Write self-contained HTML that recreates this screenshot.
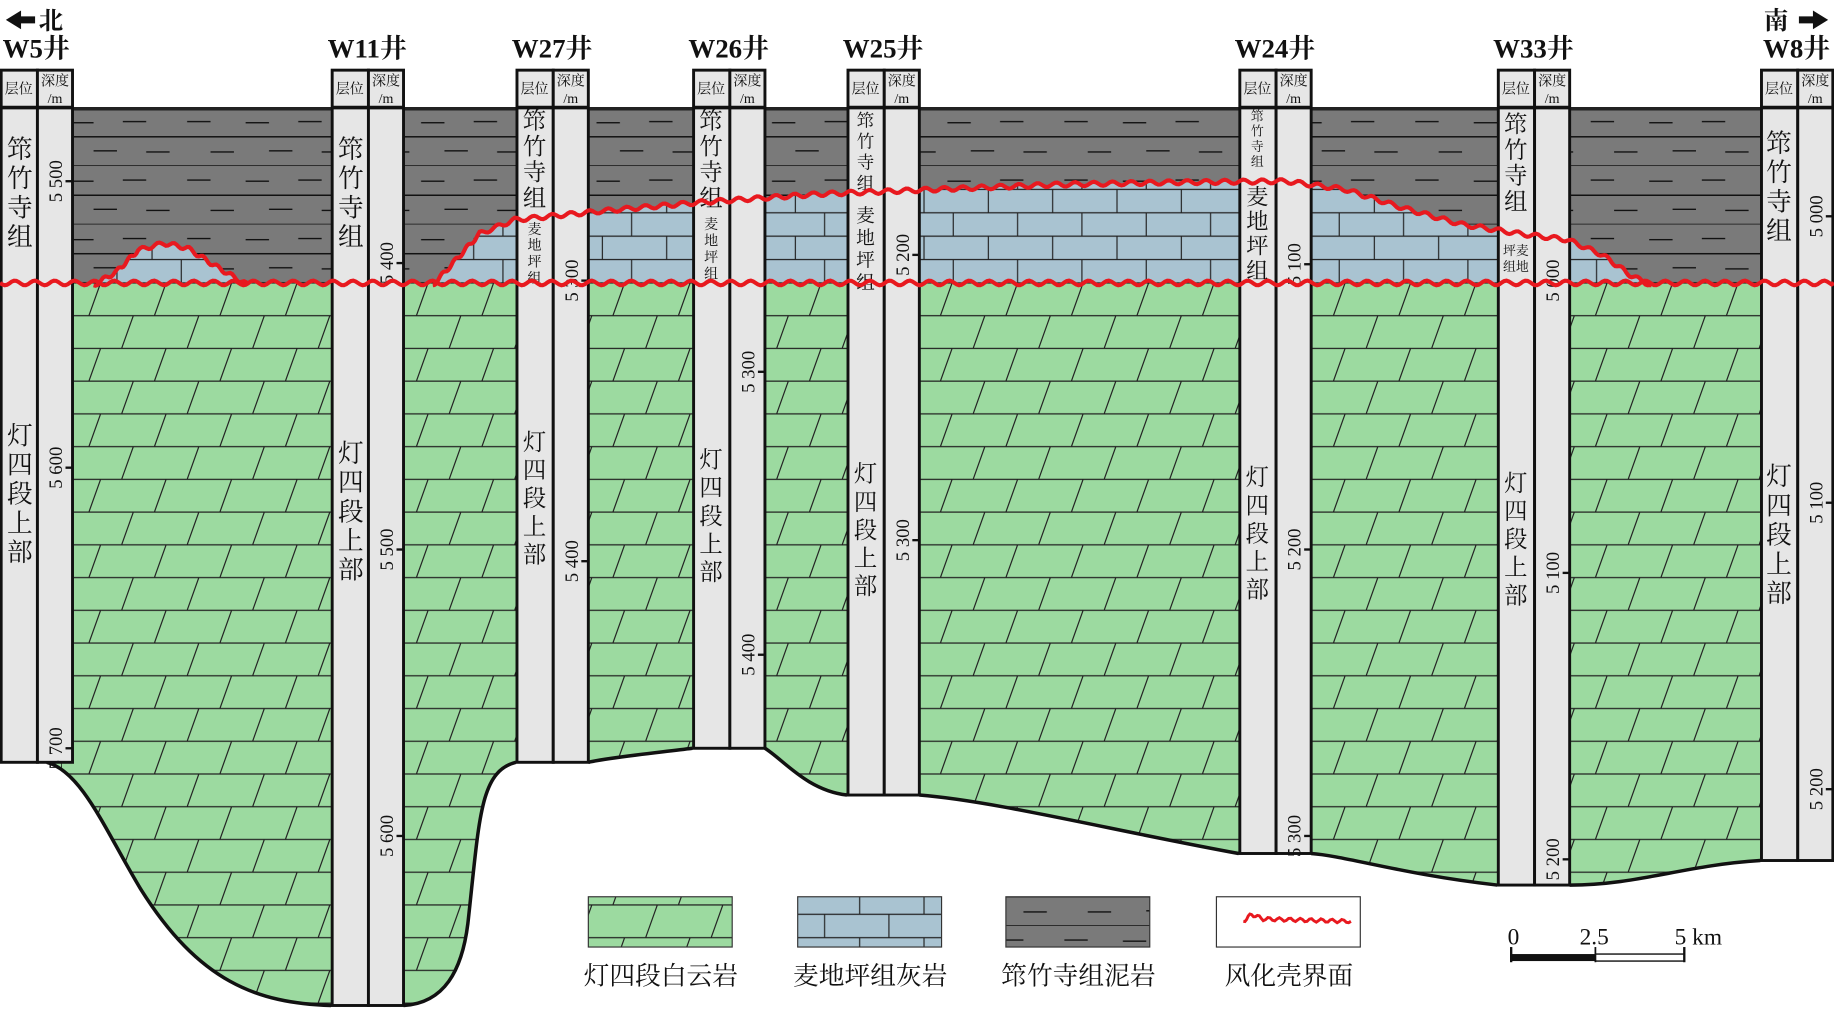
<!DOCTYPE html>
<html><head><meta charset="utf-8"><style>
html,body{margin:0;padding:0;background:#fff;}
svg{display:block;}
text{font-family:"Liberation Serif","Noto Serif CJK SC","Noto Sans CJK SC",serif;fill:#111;}
</style></head><body>
<svg id="s" width="1834" height="1009" viewBox="0 0 1568 863" preserveAspectRatio="none" xmlns="http://www.w3.org/2000/svg">
<defs>
<pattern id="pg" patternUnits="userSpaceOnUse" x="0" y="242" width="112" height="56">
<rect width="112" height="56" fill="#9cdaa0"/>
<path d="M0 28H112M0 56H112M0 0H112M20 28L30 0M76 28L86 0M48 56L58 28M104 56L114 28M-8 56L2 28" stroke="#222" stroke-width="1"/>
</pattern>
<pattern id="pb" patternUnits="userSpaceOnUse" x="0" y="242" width="110" height="40">
<rect width="110" height="40" fill="#a9c3d1"/>
<path d="M0 0H110M0 20H110M0 40H110M20 0V20M75 0V20M45 20V40M100 20V40" stroke="#222" stroke-width="1"/>
</pattern>
<pattern id="pm" patternUnits="userSpaceOnUse" x="0" y="92" width="150" height="50">
<rect width="150" height="50" fill="#7a7a7a"/>
<path d="M0 25H150M0 50H150M10 12H30M60 13H80M105 12H125M30 38H50M80 37H100M125 38H145" stroke="#111" stroke-width="1.2"/>
</pattern>
<clipPath id="cg"><path d="M0 242H1568V736L1505 736C1440 740 1400 757 1342 757L1280 757C1200 748 1150 732 1121 730L1059 730C950 710 850 685 786 680L724 680C690 676 670 650 654 640L592 640C560 644 520 648 503 652L441 652C410 660 410 700 400 790C395 830 380 858 345 860L283 860C220 858 170 840 120 760C90 710 70 660 40 652L0 652Z"/></clipPath>
</defs>
<g id="g"></g>
</svg>
<script>
const NS="http://www.w3.org/2000/svg",g=document.getElementById('g');
function el(t,a,txt){const e=document.createElementNS(NS,t);for(const k in a)e.setAttribute(k,a[k]);if(txt!=null)e.textContent=txt;g.appendChild(e);return e;}
el('rect',{x:0,y:92,width:1568,height:152,fill:'url(#pm)'});
const dome1=[[80,244],[100,232],[118,214],[140,208],[160,212],[185,228],[210,244]];
const dome2=[[370,244],[390,222],[410,200],[440,188],[470,185],[520,180],[600,173],[700,166],[800,162],[900,158],[1000,156],[1100,155],[1150,162],[1200,178],[1250,192],[1300,200],[1340,205],[1370,218],[1395,236],[1412,244]];
function poly(pts){return 'M'+pts.map(p=>p.join(' ')).join(' L');}
el('path',{d:poly(dome1)+'Z',fill:'url(#pb)'});
el('path',{d:poly(dome2)+'Z',fill:'url(#pb)'});
el('rect',{x:0,y:242,width:1568,height:630,fill:'url(#pg)','clip-path':'url(#cg)'});
el('path',{d:"M40 652C70 660 90 710 120 760C170 840 220 858 283 860M345 860C380 858 395 830 400 790C410 700 410 660 441 652M503 652C520 648 560 644 592 640M654 640C670 650 690 676 724 680M786 680C850 685 950 710 1059 730M1121 730C1150 732 1200 748 1280 757M1342 757C1400 757 1440 740 1505 736",fill:'none',stroke:'#111','stroke-width':3});
el('line',{x1:0,y1:93,x2:1568,y2:93,stroke:'#222','stroke-width':3});
function wavy(pts,amp,per){let out=[];let L=0;for(let i=1;i<pts.length;i++){const [x0,y0]=pts[i-1],[x1,y1]=pts[i];const len=Math.hypot(x1-x0,y1-y0);const n=Math.max(2,Math.ceil(len/2));for(let j=0;j<n;j++){const t=j/n;const x=x0+(x1-x0)*t,y=y0+(y1-y0)*t;const s=L+len*t;out.push([x,y+amp*Math.sin(s/per*2*Math.PI)]);}L+=len;}out.push(pts[pts.length-1]);return 'M'+out.map(p=>p[0].toFixed(1)+' '+p[1].toFixed(1)).join(' L');}
const red='#e8191f';
const W=[['W5井',0,652,[[5500,155],[5600,400],[5700,640]]],['W11井',283,860,[[5400,225],[5500,470],[5600,715]]],['W27井',441,652,[[5300,240],[5400,480]]],['W26井',592,640,[[5300,318],[5400,560]]],['W25井',724,680,[[5200,218],[5300,462]]],['W24井',1059,730,[[5100,226],[5200,470],[5300,715]]],['W33井',1280,757,[[5000,240],[5100,490],[5200,735]]],['W8井',1505,736,[[5000,185],[5100,430],[5200,675]]]];
for(const [name,x,b,dep] of W){
 el('rect',{x:x+1,y:60,width:31,height:b-60,fill:'#e6e6e6',stroke:'#111','stroke-width':2.5});
 el('rect',{x:x+32,y:60,width:30,height:b-60,fill:'#e6e6e6',stroke:'#111','stroke-width':2.5});
 el('line',{x1:x,y1:92,x2:x+62,y2:92,stroke:'#111','stroke-width':3});
 el('text',{x:x+16,y:80,'font-size':12,'text-anchor':'middle'},'层位');
 el('text',{x:x+47,y:73,'font-size':12,'text-anchor':'middle'},'深度');
 el('text',{x:x+47,y:88,'font-size':12,'text-anchor':'middle'},'/m');
 el('text',{x:x+31,y:49,'font-size':23,'font-weight':'bold','text-anchor':'middle'},name);
 for(const [v,y] of dep){
  el('line',{x1:x+56,y1:y,x2:x+62,y2:y,stroke:'#111','stroke-width':2});
  const s=String(v);
  el('text',{x:0,y:0,'font-size':16,'text-anchor':'middle',transform:`translate(${x+53},${y}) rotate(-90)`},s[0]+' '+s.slice(1));
 }
}
function vtext(x,y0,str,fs,gap){for(let i=0;i<str.length;i++)el('text',{x:x,y:y0+i*gap,'font-size':fs,'text-anchor':'middle'},str[i]);}
vtext(17,135,'筇竹寺组',22,25); vtext(17,380,'灯四段上部',22,25);
vtext(300,135,'筇竹寺组',22,25); vtext(300,395,'灯四段上部',22,25);
vtext(457,110,'筇竹寺组',20,22); vtext(457,200,'麦地坪组',12,14); vtext(457,385,'灯四段上部',20,24);
vtext(608,110,'筇竹寺组',20,22); vtext(608,196,'麦地坪组',12,14); vtext(608,400,'灯四段上部',20,24);
vtext(740,108,'筇竹寺组',15,18); vtext(740,190,'麦地坪组',16,19); vtext(740,412,'灯四段上部',20,24);
vtext(1075,103,'筇竹寺组',11,13); vtext(1075,175,'麦地坪组',19,21); vtext(1075,415,'灯四段上部',20,24);
vtext(1296,113,'筇竹寺组',20,22); el('text',{x:1296,y:218,'font-size':11,'text-anchor':'middle'},'坪麦'); el('text',{x:1296,y:232,'font-size':11,'text-anchor':'middle'},'组地');
vtext(1296,420,'灯四段上部',20,24);
vtext(1521,130,'筇竹寺组',22,25); vtext(1521,415,'灯四段上部',22,25);
el('path',{d:wavy(dome1.slice(0,-1).concat([[212,244]]),1.8,14),fill:'none',stroke:red,'stroke-width':3.5});
el('path',{d:wavy(dome2,1.8,16),fill:'none',stroke:red,'stroke-width':3.5});
el('path',{d:wavy([[0,242],[1568,242]],2,17),fill:'none',stroke:red,'stroke-width':3.5});
el('path',{d:'M5 17L18 9V14H30V20H18V25Z',fill:'#111'});
el('text',{x:33,y:25,'font-size':21,'font-weight':'bold'},'北');
el('text',{x:1508,y:25,'font-size':21,'font-weight':'bold'},'南');
el('path',{d:'M1563 17L1550 9V14H1538V20H1550V25Z',fill:'#111'});
const lg=[[503,'url(#pg)','灯四段白云岩'],[682,'url(#pb)','麦地坪组灰岩'],[860,'url(#pm)','筇竹寺组泥岩'],[1040,'#fff','风化壳界面']];
for(const [x,f,t] of lg){el('rect',{x:x,y:767,width:123,height:43,fill:f,stroke:'#333','stroke-width':1});el('text',{x:x+62,y:842,'font-size':22,'text-anchor':'middle'},t);}
el('path',{d:wavy([[1063,788],[1070,782],[1080,786],[1155,788]],1.5,9),fill:'none',stroke:red,'stroke-width':2.5});
el('text',{x:1294,y:808,'font-size':20,'text-anchor':'middle'},'0');
el('text',{x:1363,y:808,'font-size':20,'text-anchor':'middle'},'2.5');
el('text',{x:1452,y:808,'font-size':20,'text-anchor':'middle'},'5 km');
el('rect',{x:1292,y:816,width:72,height:6,fill:'#111'});
el('rect',{x:1364,y:816,width:76,height:6,fill:'#fff',stroke:'#111','stroke-width':1.2});
el('line',{x1:1292,y1:810,x2:1292,y2:823,stroke:'#111','stroke-width':2});
el('line',{x1:1364,y1:810,x2:1364,y2:823,stroke:'#111','stroke-width':1.5});
el('line',{x1:1440,y1:810,x2:1440,y2:823,stroke:'#111','stroke-width':2});
</script>
</body></html>
